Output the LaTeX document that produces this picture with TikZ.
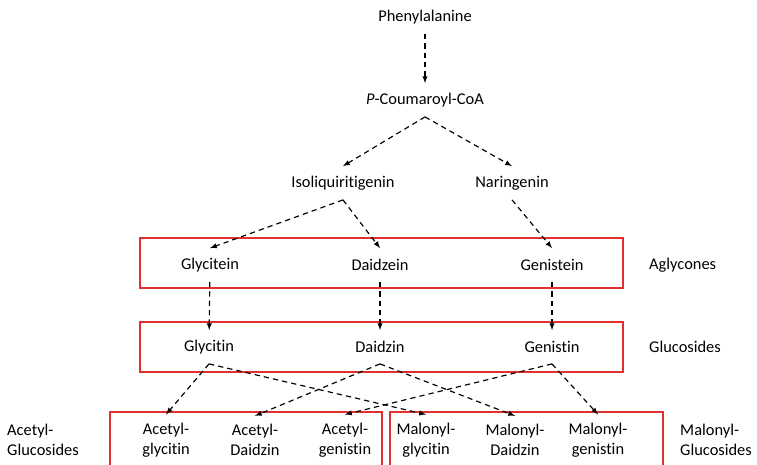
\documentclass[tikz,border=0pt]{standalone}
\usepackage{fontspec}
\setmainfont{Carlito}[RawFeature={-liga}]
\usepackage{tikz}
\usetikzlibrary{shapes,arrows}

\definecolor{boxred}{RGB}{226,48,48}

\tikzset{
  compound/.style={inner sep=3pt,minimum height=1cm,font=\fontsize{14}{17}\selectfont},
  derivative/.style={compound,align=center,inner ysep=7pt},
  grouplabel/.style={inner sep=0pt,font=\fontsize{14}{17}\selectfont},
  route/.style={draw,dash pattern=on 4.5pt off 3.5pt,-latex,line width=1pt},
  groupbox/.style={draw=boxred,line width=1.2pt}
}

\begin{document}
\begin{tikzpicture}[x=0.03cm,y=-0.03cm]
\useasboundingbox (0,0) rectangle (757,464);

\node[name=Phenylalanine,compound] at (425,17) {Phenylalanine};
\node[name=Coumaroyl-CoA,compound] at (425,100) {\textit{P}-Coumaroyl-CoA};
\node[name=Isoliquiritigenin,compound] at (343,183) {Isoliquiritigenin};
\node[name=Naringenin,compound] at (512,183) {Naringenin};

\node[name=Glycitein,compound] at (210,265) {Glycitein};
\node[name=Daidzein,compound] at (380,265) {Daidzein};
\node[name=Genistein,compound] at (552,265) {Genistein};
\node[name=Aglycones,grouplabel,anchor=west] at (649,265) {Aglycones};

\node[name=Glycitin,compound] at (209,347) {Glycitin};
\node[name=Daidzin,compound] at (380,347) {Daidzin};
\node[name=Genistin,compound] at (552,347) {Genistin};
\node[name=Glucosides,grouplabel,anchor=west] at (649,347) {Glucosides};

\node[name=Acetyl-glycitin,derivative] at (166,440) {Acetyl-\\glycitin};
\node[name=Acetyl-Daidzin,derivative] at (255,440) {Acetyl-\\Daidzin};
\node[name=Acetyl-genistin,derivative] at (345,440) {Acetyl-\\genistin};
\node[name=Malonyl-glycitin,derivative] at (426,440) {Malonyl-\\glycitin};
\node[name=Malonyl-Daidzin,derivative] at (515,440) {Malonyl-\\Daidzin};
\node[name=Malonyl-genistin,derivative] at (598,440) {Malonyl-\\genistin};
\node[name=Acetyl-Glucosides,grouplabel,anchor=west,align=left] at (7,440) {Acetyl-\\Glucosides};
\node[name=Malonyl-Glucosides,grouplabel,anchor=west,align=left] at (680,440) {Malonyl-\\Glucosides};

% group boxes
\draw[groupbox] (140,238) rectangle (623,288);
\draw[groupbox] (140,322) rectangle (623,372);
\draw[groupbox] (110,412) rectangle (382,480);
\draw[groupbox] (390,412) rectangle (663,480);

% pathway
\path[route] (Phenylalanine) -- (Coumaroyl-CoA);
\path[route] (Coumaroyl-CoA.south) -- (Isoliquiritigenin.north);
\path[route] (Coumaroyl-CoA.south) -- (Naringenin.north);
\path[route] (Isoliquiritigenin.south) -- (Glycitein.north);
\path[route] (Isoliquiritigenin.south) -- (Daidzein.north);
\path[route] (Naringenin.south) -- (Genistein.north);

\path[route] (Glycitein) -- (Glycitin);
\path[route] (Daidzein) -- (Daidzin);
\path[route] (Genistein) -- (Genistin);

\path[route] (Glycitin.south) -- (Acetyl-glycitin.north);
\path[route] (Glycitin.south) -- (Malonyl-glycitin.north);
\path[route] (Daidzin.south) -- (Acetyl-Daidzin.north);
\path[route] (Daidzin.south) -- (Malonyl-Daidzin.north);
\path[route] (Genistin.south) -- (Acetyl-genistin.north);
\path[route] (Genistin.south) -- (Malonyl-genistin.north);
\end{tikzpicture}
\end{document}
